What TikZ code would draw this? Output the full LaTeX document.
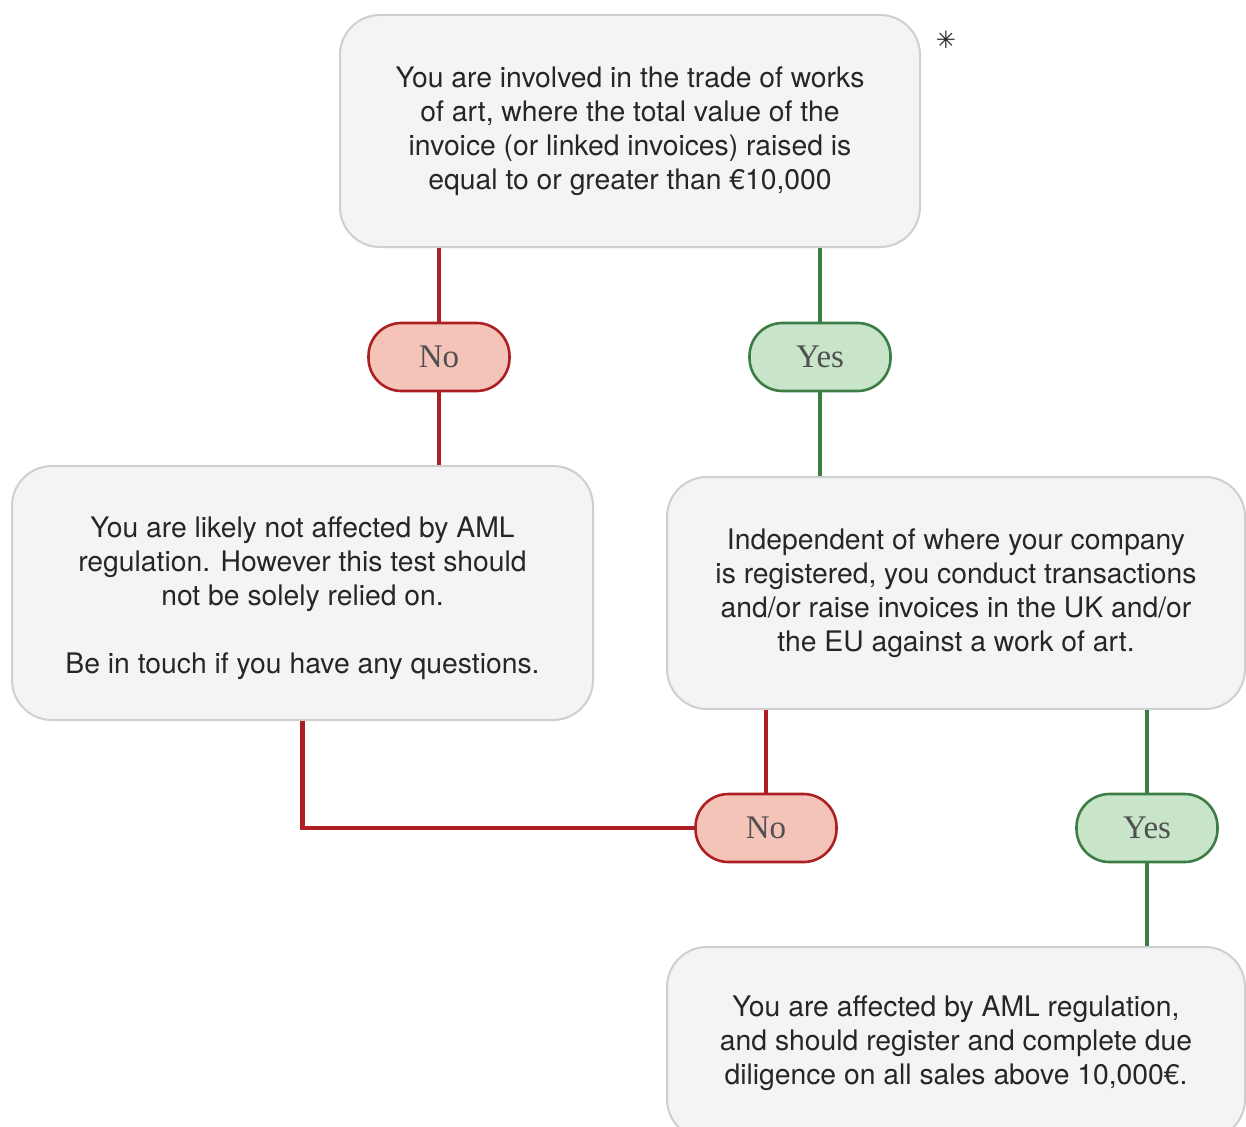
\documentclass[tikz,border=0pt]{standalone}
\usepackage{fontspec}
\setmainfont{TeX Gyre Heros}
\newfontfamily\pillfont{Liberation Serif}
\newfontfamily\symfont{DejaVu Sans}
\definecolor{boxfill}{HTML}{F3F4F6}
\definecolor{boxline}{HTML}{CFCFCF}
\definecolor{nored}{HTML}{AE1F24}
\definecolor{nofill}{HTML}{F5C4B9}
\definecolor{yesgreen}{HTML}{3B7D45}
\definecolor{yesfill}{HTML}{C9E5C9}
\definecolor{pilltext}{HTML}{505050}
\definecolor{maintext}{HTML}{262626}
\begin{document}
\begin{tikzpicture}[x=1pt,y=-1pt,
  infobox/.style={draw=boxline, line width=2pt, fill=boxfill, rounded corners=40pt,
    align=center, text=maintext, font=\fontsize{28.3}{34}\selectfont, inner sep=0pt},
  pill/.style={rounded corners=33pt, line width=2.6pt, minimum width=141pt, minimum height=68pt,
    inner sep=0pt, text=pilltext, font=\pillfont\fontsize{33}{33}\selectfont},
  nopill/.style={pill, draw=nored, fill=nofill},
  yespill/.style={pill, draw=yesgreen, fill=yesfill},
  noline/.style={draw=nored, line width=4.5pt},
  yesline/.style={draw=yesgreen, line width=4.5pt}]
\useasboundingbox (0,0) rectangle (1246,1126);
\clip (0,0) rectangle (1246,1126);
\fill[white] (0,0) rectangle (1246,1126);

\node[infobox, minimum width=580pt, minimum height=232pt] (top) at (630,131)
  {You are involved in the trade of works\\of art, where the total value of the\\invoice (or linked invoices) raised is\\equal to or greater than €10,000};
\node[font=\symfont\fontsize{24}{24}\selectfont, text=maintext] (star) at (946,40) {✳};

\node[nopill] (no1) at (439,357) {No};
\node[yespill] (yes1) at (820,357) {Yes};

\node[infobox, minimum width=581pt, minimum height=254pt] (left) at (302.5,593)
  {\rule{0pt}{31pt}You are likely not affected by AML\\regulation. However this test should\\not be solely relied on.\\[34pt]Be in touch if you have any questions.};
\node[infobox, minimum width=578pt, minimum height=232pt] (right) at (956,593)
  {Independent of where your company\\is registered, you conduct transactions\\and/or raise invoices in the UK and/or\\the EU against a work of art.};

\node[nopill] (no2) at (766,828) {No};
\node[yespill] (yes2) at (1147,828) {Yes};

\node[infobox, minimum width=578pt, minimum height=192pt] (bottom) at (956,1043)
  {You are affected by AML regulation,\\and should register and complete due\\diligence on all sales above 10,000€.};

\draw[noline] (no1.north) -- (no1 |- top.south);
\draw[noline] (no1.south) -- (no1 |- left.north);
\draw[yesline] (yes1.north) -- (yes1 |- top.south);
\draw[yesline] (yes1.south) -- (yes1 |- right.north);
\draw[noline] (no2.north) -- (no2 |- right.south);
\draw[noline, line join=miter] (left.south) -- (left.south |- no2.west) -- (no2.west);
\draw[yesline] (yes2.north) -- (yes2 |- right.south);
\draw[yesline] (yes2.south) -- (yes2 |- bottom.north);
\end{tikzpicture}
\end{document}
